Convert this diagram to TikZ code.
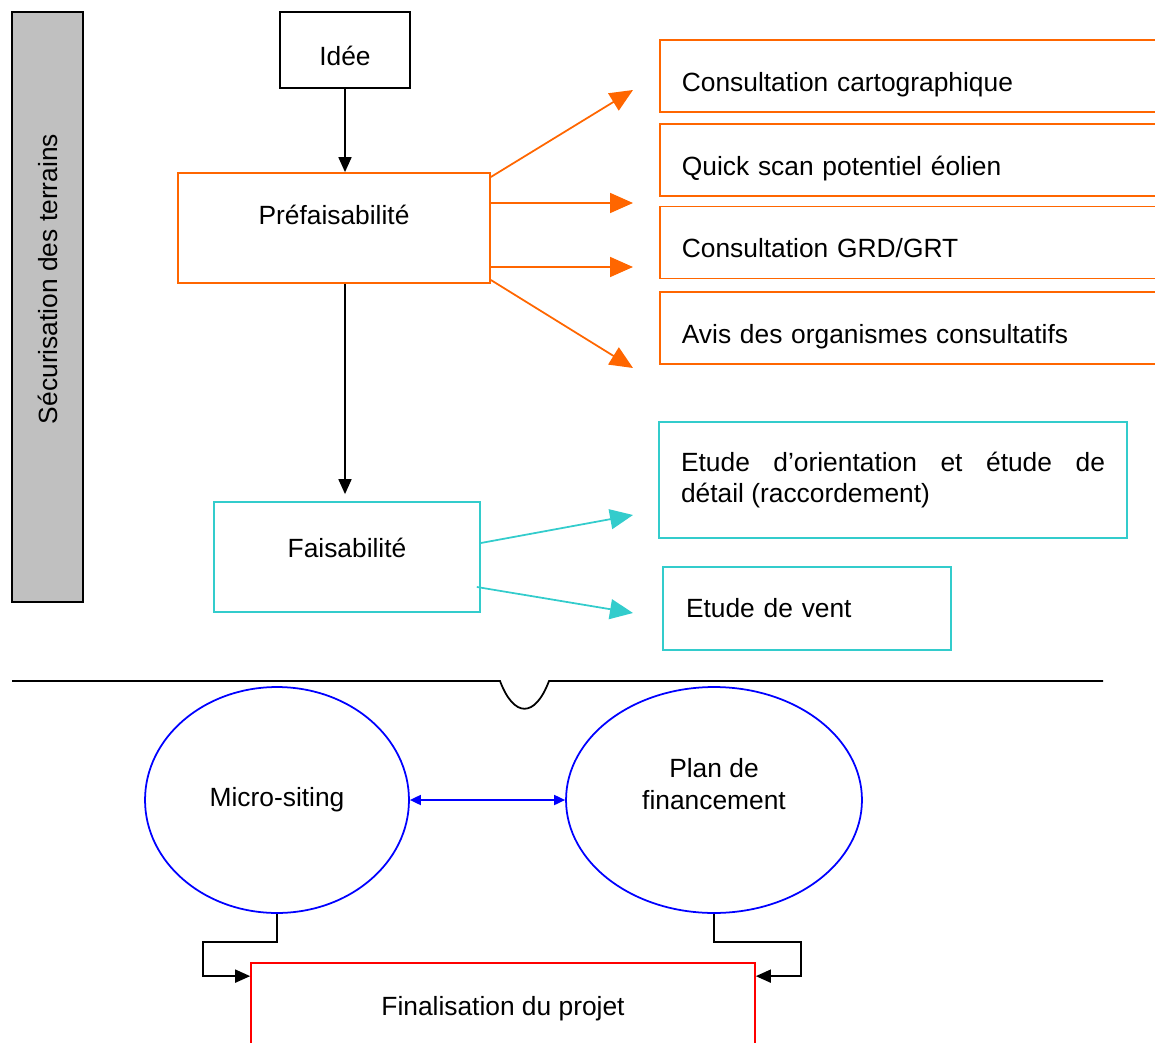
\documentclass[tikz,border=0pt]{standalone}
\usepackage{fontspec}
\setmainfont{Liberation Sans}
\usetikzlibrary{arrows.meta,shapes.geometric,calc}
\definecolor{orangeline}{HTML}{FF6600}
\definecolor{cyanline}{HTML}{33CCCC}
\definecolor{barfill}{HTML}{C0C0C0}

\begin{document}
\begin{tikzpicture}[x=0.02cm,y=-0.02cm,font=\fontsize{15}{18}\selectfont,line width=1pt]
\tikzstyle{bar}=[rectangle,draw=black,fill=barfill,minimum width=1.42cm,minimum height=11.8cm]
\tikzstyle{blackbox}=[rectangle,draw=black,minimum width=2.6cm,minimum height=1.52cm,text height=1.75em,text depth=0pt]
\tikzstyle{obox}=[rectangle,draw=orangeline,minimum height=1.44cm,text width=9.4cm,inner xsep=0.44cm,align=left,text height=1.75em,text depth=0pt]
\tikzstyle{cbox}=[rectangle,draw=cyanline]
\tikzstyle{phase}=[ellipse,draw=blue,minimum height=4.52cm]
\tikzstyle{oarrow}=[draw=orangeline,-{Triangle[length=0.46cm,width=0.4cm]}]
\tikzstyle{carrow}=[draw=cyanline,-{Triangle[length=0.46cm,width=0.4cm]}]
\tikzstyle{karrow}=[draw=black,-{Triangle[length=0.3cm,width=0.26cm]}]
\useasboundingbox (0,0) rectangle (1155,1043);
\clip (0,0) rectangle (1155,1043);
% left bar
\node [bar] (bar) at (47.5,307) {};
\node [rotate=90] (bartext) at (47.5,279) {Sécurisation des terrains};
% phase 1
\node [blackbox] (idee) at (345,50) {Idée};
\node [rectangle,draw=orangeline,minimum width=6.24cm,minimum height=2.2cm,
       label={[yshift=0.26cm]center:Préfaisabilité}] (pref) at (334,228) {};
\node [obox,anchor=west] (carto) at (659,76) {Consultation cartographique};
\node [obox,anchor=west] (scan) at (659,160) {Quick scan potentiel éolien};
\node [obox,anchor=west] (grd) at (659,242.5) {Consultation GRD/GRT};
\node [obox,anchor=west] (avis) at (659,328) {Avis des organismes consultatifs};
\coordinate (o1) at (633,90);
\coordinate (o2) at (633,203);
\coordinate (o3) at (633,267);
\coordinate (o4) at (633,368);
\draw [oarrow] ([yshift=1.02cm]pref.east) -- (o1);
\draw [oarrow] ([yshift=0.5cm]pref.east) -- (o2);
\draw [oarrow] ([yshift=-0.78cm]pref.east) -- (o3);
\draw [oarrow] ([yshift=-1.04cm]pref.east) -- (o4);
% phase 2
\node [cbox,minimum width=5.32cm,minimum height=2.2cm,
       label={[yshift=0.18cm]center:Faisabilité}] (fais) at (347,557) {};
\node [cbox,minimum height=2.32cm,text width=8.48cm,inner xsep=0.44cm,align=justify] (orient) at (893,480)
      {Etude d’orientation et étude de\linebreak détail (raccordement)};
\node [cbox,minimum height=1.66cm,text width=4.84cm,inner xsep=0.46cm,align=left] (vent) at (807,608.5) {Etude de vent};
\coordinate (c1) at (633,515);
\coordinate (c2) at (633,613);
\draw [carrow] ([yshift=0.28cm]fais.east) -- (c1);
\draw [carrow] ([xshift=-0.08cm,yshift=-0.6cm]fais.east) -- (c2);
\draw [karrow] (idee.south) -- (idee.south |- pref.north);
\draw [karrow,shorten >=0.14cm] (pref.south -| idee.south) -- (fais.north -| idee.south);
% separator
\coordinate (sepl) at (12,681);
\coordinate (sepr) at (1103,681);
\draw (sepl) -- (500,681) .. controls (514,718) and (535,718) .. (549,681) -- (sepr);
% phase 3
\node [phase,minimum width=5.28cm] (micro) at (277,800) {Micro-siting};
\node [phase,minimum width=5.92cm,align=center,
       label={[yshift=0.32cm,align=center]center:Plan de\\financement}] (plan) at (714,800) {};
\draw [blue,{Triangle[length=0.22cm,width=0.2cm]}-{Triangle[length=0.22cm,width=0.2cm]}] (micro.east) -- (plan.west);
\node [rectangle,draw=red,minimum width=10.08cm,minimum height=1.72cm,
       label={[yshift=-0.06cm]center:Finalisation du projet}] (final) at (503,1006) {};
\coordinate (ml) at (203,942);
\coordinate (pr) at (801,942);
\draw [karrow] (micro.south) |- (ml) |- ($(final.north west)+(0,14)$);
\draw [karrow] (plan.south) |- (pr) |- ($(final.north east)+(0,14)$);
\end{tikzpicture}
\end{document}
